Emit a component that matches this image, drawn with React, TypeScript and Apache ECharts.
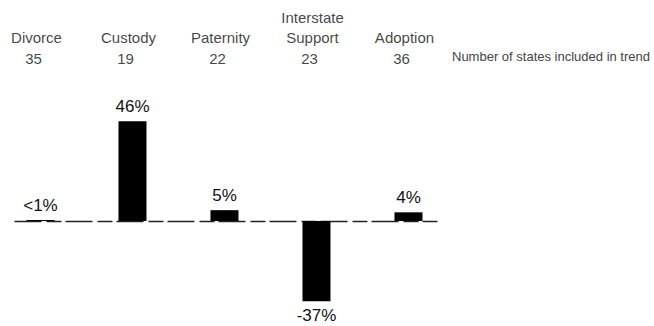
import React, { useEffect, useRef } from "react";
import * as echarts from "echarts";

const categories = ["Divorce", "Custody", "Paternity", "Interstate\nSupport", "Adoption"];
const stateCounts = [35, 19, 22, 23, 36];
const trendValues = [0.5, 46, 5, -37, 4];
const valueLabels = ["<1%", "46%", "5%", "-37%", "4%"];
const noteText = "Number of states included in trend";

const FONT = "'Liberation Sans', Arial, Helvetica, sans-serif";

export default function App() {
  const ref = useRef<HTMLDivElement>(null);
  useEffect(() => {
    if (!ref.current) return;
    const chart = echarts.init(ref.current, null, { renderer: "svg" });
    chart.setOption({
      animation: false,
      backgroundColor: "#ffffff",
      title: {
        text: noteText,
        left: 452,
        top: 50,
        padding: 0,
        textStyle: { fontFamily: FONT, fontSize: 13, fontWeight: "normal", color: "#444" },
      },
      grid: { left: 15, right: 217, top: 0, bottom: 1 },
      xAxis: {
        type: "value",
        min: -0.277,
        max: 4.31,
        splitLine: { show: false },
        axisTick: { show: false },
        axisLabel: { show: false },
        axisLine: {
          show: true,
          onZero: true,
          lineStyle: { color: "#222", width: 1.3, type: [26, 6, 14, 5] },
        },
      },
      yAxis: {
        type: "value",
        min: -48,
        max: 102,
        show: false,
      },
      series: [
        {
          type: "bar",
          barWidth: 28,
          itemStyle: { color: "#000" },
          data: trendValues.map((v, i) => [i, v]),
          label: {
            show: true,
            position: "outside",
            distance: 6,
            fontFamily: FONT,
            fontSize: 17,
            color: "#111",
            formatter: (p: any) => valueLabels[p.dataIndex],
          },
          z: 3,
        },
        {
          type: "scatter",
          symbolSize: 0,
          silent: true,
          data: categories.map((c, i) => [i, 80]),
          label: {
            show: true,
            position: "top",
            distance: 0,
            offset: [-4, 0],
            fontFamily: FONT,
            fontSize: 15,
            lineHeight: 20,
            align: "center",
            color: "#111",
            formatter: (p: any) => categories[p.dataIndex],
          },
        },
        {
          type: "scatter",
          symbolSize: 0,
          silent: true,
          data: stateCounts.map((c, i) => [i, 70.6]),
          label: {
            show: true,
            position: "top",
            distance: 0,
            offset: [-7, 0],
            fontFamily: FONT,
            fontSize: 15,
            lineHeight: 20,
            align: "center",
            color: "#111",
            formatter: (p: any) => String(stateCounts[p.dataIndex]),
          },
        },
      ],
    });
    return () => chart.dispose();
  }, []);
  return (
    <div
      ref={ref}
      style={{ position: "absolute", left: 0, top: 0, width: 654, height: 326 }}
    />
  );
}
